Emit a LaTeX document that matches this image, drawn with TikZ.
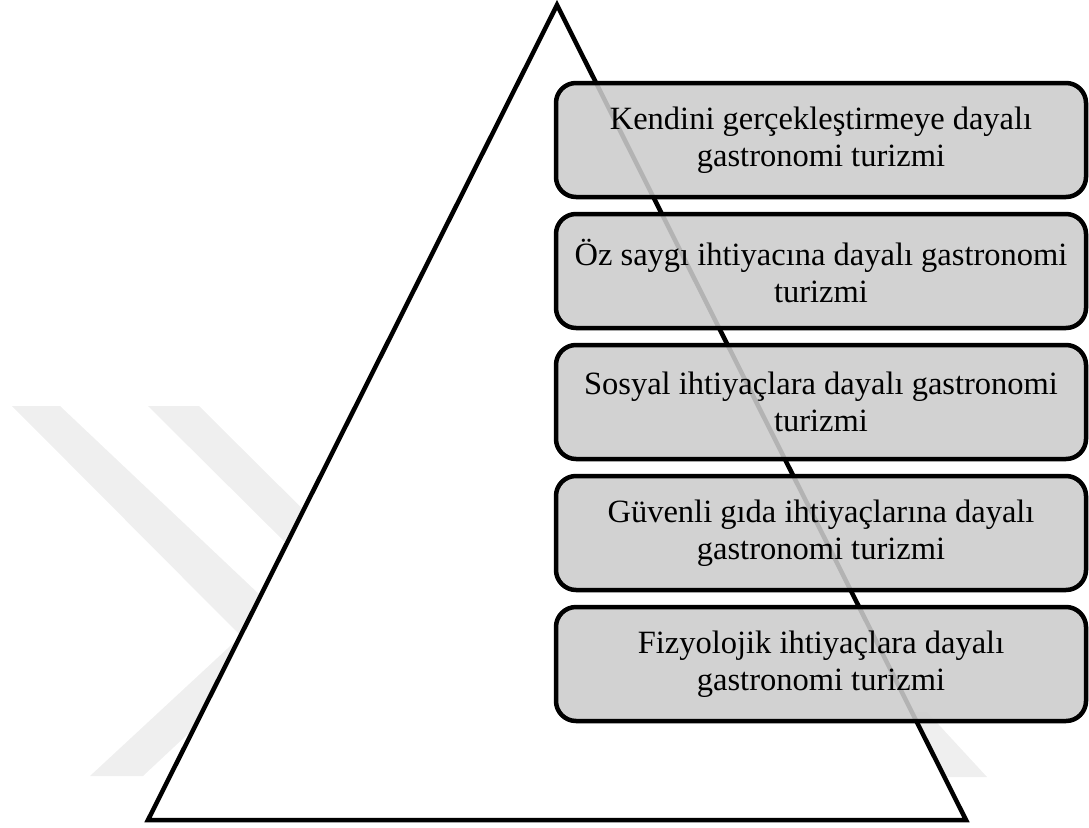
\documentclass[tikz,border=0pt]{standalone}
\usepackage{fontspec}
\setmainfont{Liberation Serif}
\definecolor{wmgray}{RGB}{239,239,239}
\definecolor{boxgray}{RGB}{204,204,204}
\tikzset{
  level/.style={draw=black, line width=4.5pt, fill=boxgray, fill opacity=0.88,
    text opacity=1, rounded corners=20pt, minimum width=530pt,
    minimum height=114pt, align=center, inner sep=0pt,
    font=\fontsize{32.5}{37}\selectfont,
    execute at begin node={\rule{0pt}{44pt}}},
  pyramid/.style={draw=black, line width=4.5pt, fill=white, line join=miter},
  wmark/.style={fill=wmgray, draw=none}
}
\begin{document}
\begin{tikzpicture}[x=1pt, y=-1pt]
\useasboundingbox (0,0) rectangle (1089,827);
\clip (0,0) rectangle (1089,827);

% faint background emblem
\fill[wmark] (12,406) -- (60,406) -- (298,631) -- (143,776) -- (90,776) -- (241,636) -- cycle;
\fill[wmark] (148,406) -- (199,406) -- (360,566) -- (309,566) -- cycle;
\fill[wmark] (934,777) -- (987,777) -- (927,712) -- (874,712) -- cycle;

% pyramid outline
\coordinate (apex) at (557,5);
\coordinate (bl) at (148,820);
\coordinate (br) at (966,820);
\draw[pyramid] (apex) -- (br) -- (bl) -- cycle;

% need levels
\node[level] (l5) at (821,140) {Kendini gerçekleştirmeye dayalı\\gastronomi turizmi};
\node[level] (l4) at (821,271) {Öz saygı ihtiyacına dayalı gastronomi\\turizmi};
\node[level] (l3) at (821,402) {Sosyal ihtiyaçlara dayalı gastronomi\\turizmi};
\node[level] (l2) at (821,533) {Güvenli gıda ihtiyaçlarına dayalı\\gastronomi turizmi};
\node[level] (l1) at (821,664) {Fizyolojik ihtiyaçlara dayalı\\gastronomi turizmi};
\end{tikzpicture}
\end{document}
